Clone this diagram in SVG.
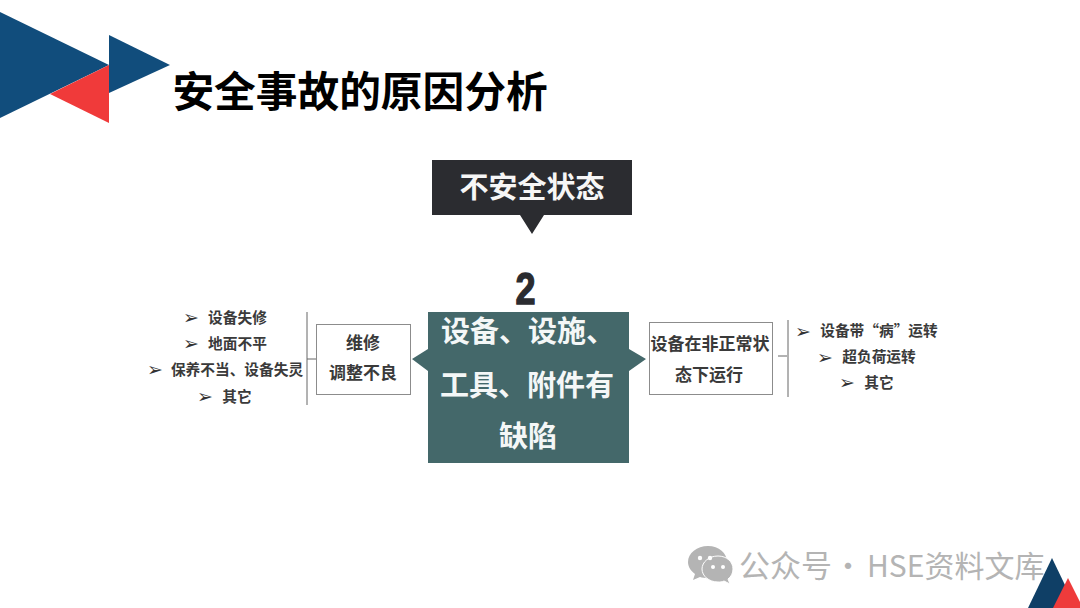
<svg xmlns="http://www.w3.org/2000/svg" width="1080" height="608" viewBox="0 0 1080 608">
<style>
text{font-family:"Noto Sans CJK SC","Noto Sans",sans-serif;font-weight:700;text-anchor:middle}
.li{font-size:14.7px;fill:#3a3a3a}
.bu{font-family:"DejaVu Sans",sans-serif;font-size:19px;fill:#333}
.bx{fill:#fff;stroke:#8c8c8c;stroke-width:1}
.ln{stroke:#666;stroke-width:1;fill:none}
.bt{font-size:17px;fill:#3a3a3a}
.mt{font-size:29px;fill:#f4f7f7}
.wm{font-weight:400;fill:#b4b4b4;text-anchor:start}
</style>
<rect width="1080" height="608" fill="#fff"/>
<g id="logo-top">
<polygon points="0,12 109,65 0,118" fill="#114d7c"/>
<polygon points="109,35 170,65 109,93" fill="#114d7c"/>
<polygon points="50,94 109,65 109,123" fill="#f03a3a"/>
</g>
<text id="title" x="360" y="107" font-size="41.700" fill="#000">安全事故的原因分析</text>
<g id="state">
<polygon points="432,160 632,160 632,215 544,215 532,234 520,215 432,215" fill="#2b2c30"/>
<text x="532" y="198" font-size="29" fill="#f6f6f6">不安全状态</text>
</g>
<text id="number" x="0" y="0" transform="translate(525.5 304) scale(0.8 1)" style="font-family:'Liberation Sans',sans-serif;font-weight:700;stroke:#2b2c30;stroke-width:1.4" font-size="45" fill="#2b2c30">2</text>
<g id="connectors">
<path class="ln" d="M307 312V405M307 359H316"/>
<path class="ln" d="M788 320V397M778 356H787"/>
</g>
<g id="center">
<polygon points="428,312 629,312 629,349 646,359 629,371 629,463 428,463 428,371 412,359 428,349" fill="#44686a"/>
<text class="mt" x="528" y="342">设备、设施、</text>
<text class="mt" x="527" y="396">工具、附件有</text>
<text class="mt" x="528" y="447">缺陷</text>
</g>
<g id="left-box">
<rect class="bx" x="316.500" y="324.500" width="94" height="70"/>
<text class="bt" x="363" y="349">维修</text>
<text class="bt" x="363" y="379">调整不良</text>
</g>
<g id="right-box">
<rect class="bx" x="649.500" y="322.500" width="123" height="72"/>
<text class="bt" x="710" y="350">设备在非正常状</text>
<text class="bt" x="709" y="381">态下运行</text>
</g>
<g id="left-list">
<text class="bu" x="191" y="324">➢</text><text class="li" x="237.500" y="323">设备失修</text>
<text class="bu" x="191" y="350">➢</text><text class="li" x="237.500" y="349">地面不平</text>
<text class="bu" x="155" y="376">➢</text><text class="li" x="237" y="375">保养不当、设备失灵</text>
<text class="bu" x="205" y="403">➢</text><text class="li" x="237" y="402">其它</text>
</g>
<g id="right-list">
<text class="bu" x="803" y="338">➢</text><text class="li" x="879" y="336">设备带“病”运转</text>
<text class="bu" x="825" y="364">➢</text><text class="li" x="879" y="362">超负荷运转</text>
<text class="bu" x="847" y="389">➢</text><text class="li" x="879" y="388">其它</text>
</g>
<g id="watermark">
<path d="M708 546c-11 0-20 7-20 16 0 5 3 9 7 12l-2 6 7-3c2 .6 5 1 8 1 11 0 19-7 19-16s-8-16-19-16z" fill="#b4b4b4"/>
<path d="M718 556c-9 0-16 6-16 13s7 13 16 13c2 0 4 0 6-1l6 3-2-5c3-2 5-6 5-10 0-7-6-13-15-13z" fill="#b4b4b4" stroke="#fff" stroke-width="1"/>
<circle cx="700" cy="558" r="2.200" fill="#fff"/><circle cx="710" cy="558" r="2.200" fill="#fff"/>
<circle cx="713" cy="567" r="2" fill="#fff"/><circle cx="723" cy="567" r="2" fill="#fff"/>
<text class="wm" x="739" y="577" font-size="31">公众号</text>
<text class="wm" x="833" y="577" font-size="30">·</text>
<text class="wm" x="867" y="577" font-size="30">HSE资料文库</text>
</g>
<g id="logo-bottom">
<polygon points="1052,558 1076,608 1028,608" fill="#0f3f66"/>
<polygon points="1068,578 1083,608 1053,608" fill="#ee3b3b"/>
</g>
</svg>
